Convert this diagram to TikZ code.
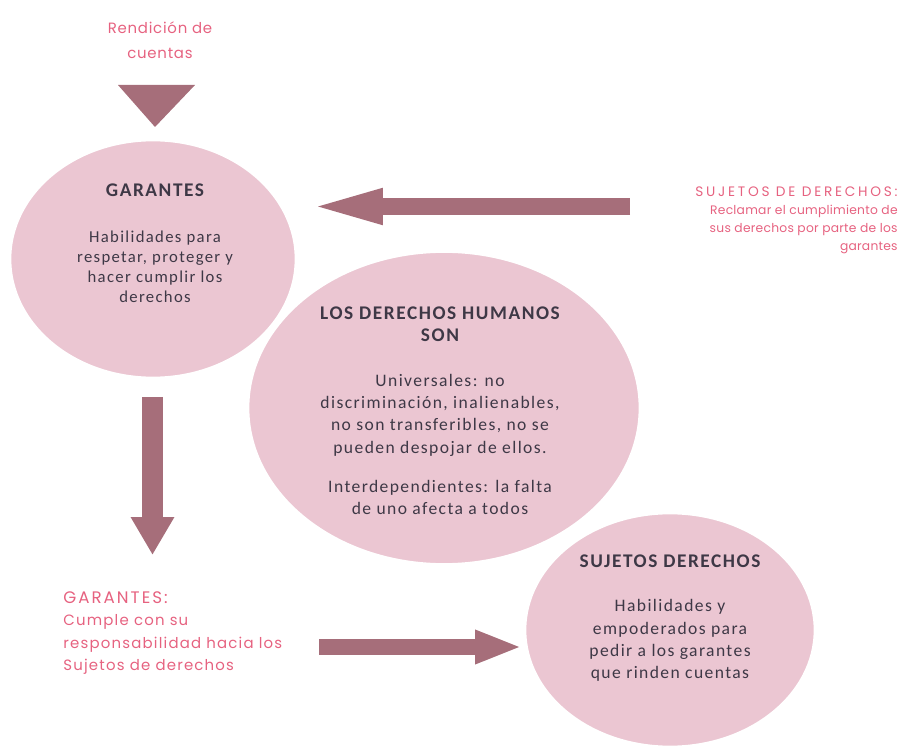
\documentclass[tikz,border=0pt]{standalone}
\usepackage{fontspec}
\setmainfont{Carlito}[LetterSpace=8]
\newfontfamily\notefont{Poppins}
\usetikzlibrary{shapes.geometric,arrows.meta,positioning}

\definecolor{bubblefill}{RGB}{235,198,210}
\definecolor{arrowred}{RGB}{166,110,122}
\definecolor{notepink}{RGB}{230,98,128}
\definecolor{darktext}{RGB}{62,56,70}

\newcommand{\bubbletitle}[1]{{\fontsize{11}{12.6}\selectfont\bfseries #1}}
\newcommand{\notecaps}[2][12]{{\addfontfeature{LetterSpace=#1}#2}}

\tikzset{
  bubble/.style={ellipse, fill=bubblefill, draw=white, line width=1.5pt, inner sep=0pt},
  bubbletext/.style={align=center, text=darktext, inner sep=0pt},
  note/.style={text=notepink, inner sep=0pt},
  blockarrow/.style={draw=arrowred, line width=#1}
}

\begin{document}
\begin{tikzpicture}[x=0.02cm, y=-0.02cm]
    \useasboundingbox (0,0) rectangle (906,746);

    % circles
    \node[bubble, minimum width=7.84cm, minimum height=6.26cm] (ddhh) at (444,408) {};
    \node[bubble, minimum width=5.72cm, minimum height=4.76cm] (garantes) at (153,259) {};
    \node[bubble, minimum width=5.8cm, minimum height=4.68cm] (sujetos) at (670,630) {};

    % texts in the circles
    \node[bubbletext, font=\fontsize{9.5}{11.3}\selectfont] (garantestxt) at (155,243)
        {\bubbletitle{GARANTES}\\[15pt] Habilidades para\\ respetar, proteger y\\ hacer cumplir los\\ derechos};
    \node[bubbletext, font=\fontsize{10}{12.6}\selectfont] (ddhhtxt) at (440,411)
        {\bubbletitle{LOS DERECHOS HUMANOS}\\ \bubbletitle{SON}\\[13pt] Universales: no\\ discriminación, inalienables,\\
         no son transferibles, no se\\ pueden despojar de ellos.\\[10pt] Interdependientes: la falta\\ de uno afecta a todos};
    \node[bubbletext, font=\fontsize{10}{12.7}\selectfont] (sujetostxt) at (670,618)
        {\bubbletitle{SUJETOS DERECHOS}\\[12.7pt] Habilidades y\\ empoderados para\\ pedir a los garantes\\ que rinden cuentas};

    % pink notes
    \node[note, align=center, font=\notefont\fontsize{8.5}{14.2}\selectfont\addfontfeature{LetterSpace=5}] (rendicion) at (160,40)
        {Rendición de\\ cuentas};
    \node[note, align=right, anchor=east, font=\notefont\fontsize{7}{10.2}\selectfont\addfontfeature{LetterSpace=2}] (reclamar) at (898,220)
        {{\fontsize{7.8}{10.2}\selectfont\notecaps[20]{SUJETOS DE DERECHOS:}}\\ Reclamar el cumplimiento de\\ sus derechos por parte de los\\ garantes};
    \node[note, align=left, anchor=west, font=\notefont\fontsize{8.5}{12.6}\selectfont\addfontfeature{LetterSpace=8}] (cumple) at (63,633)
        {{\fontsize{9.5}{12.6}\selectfont\notecaps{GARANTES:}}\\ Cumple con su\\ responsabilidad hacia los\\ Sujetos de derechos};

    % arrows
    \coordinate (topleft) at (118,85);
    \coordinate (topright) at (195,85);
    \coordinate (toptip) at (155,127);
    \fill[arrowred] (topleft) -- (topright) -- (toptip) -- cycle;

    \coordinate (reclamartail) at (630,206.5);
    \coordinate (reclamarhead) at (305,206.5);
    \draw[blockarrow=0.34cm, -{Triangle[length=1.56cm, width=0.62cm]}] (reclamartail) -- (reclamarhead);

    \coordinate (downtail) at (152.5,397);
    \coordinate (downhead) at (152.5,555);
    \draw[blockarrow=0.42cm, -{Triangle[length=0.76cm, width=0.82cm]}] (downtail) -- (downhead);

    \coordinate (righttail) at (319,647);
    \coordinate (righthead) at (522,647);
    \draw[blockarrow=0.32cm, -{Triangle[length=0.94cm, width=0.62cm]}] (righttail) -- (righthead);
\end{tikzpicture}
\end{document}
